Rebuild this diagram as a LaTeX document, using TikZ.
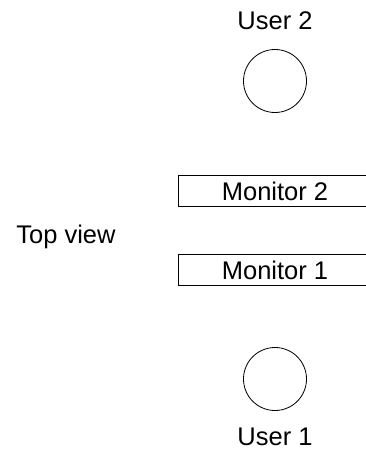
\documentclass[tikz,border=0pt]{standalone}
\usepackage{fontspec}
\setmainfont{Liberation Sans}
\usetikzlibrary{positioning}

\begin{document}
\begin{tikzpicture}[x=1pt,y=-1pt,font=\fontsize{25.5}{30}\selectfont,
  userdisc/.style={draw,circle,line width=0.8pt,minimum size=63pt,inner sep=0pt},
  monitorbox/.style={draw,line width=0.8pt,minimum width=194pt,minimum height=31pt,inner sep=0pt},
  lbl/.style={inner sep=0pt}]
\useasboundingbox (0,0) rectangle (366,456);
\clip (0,0) rectangle (366,456);
% users
\node[userdisc] (u2) at (275,81) {};
\node[lbl] (u2lbl) at (275,21) {User 2};
\node[userdisc] (u1) at (275,379) {};
\node[lbl] (u1lbl) at (275,437) {User 1};
% monitors
\node[monitorbox] (m2) at (275,191) {Monitor 2};
\node[monitorbox] (m1) at (275,270) {Monitor 1};
\node[lbl] (top) at (66,237) {Top view};
\end{tikzpicture}
\end{document}
